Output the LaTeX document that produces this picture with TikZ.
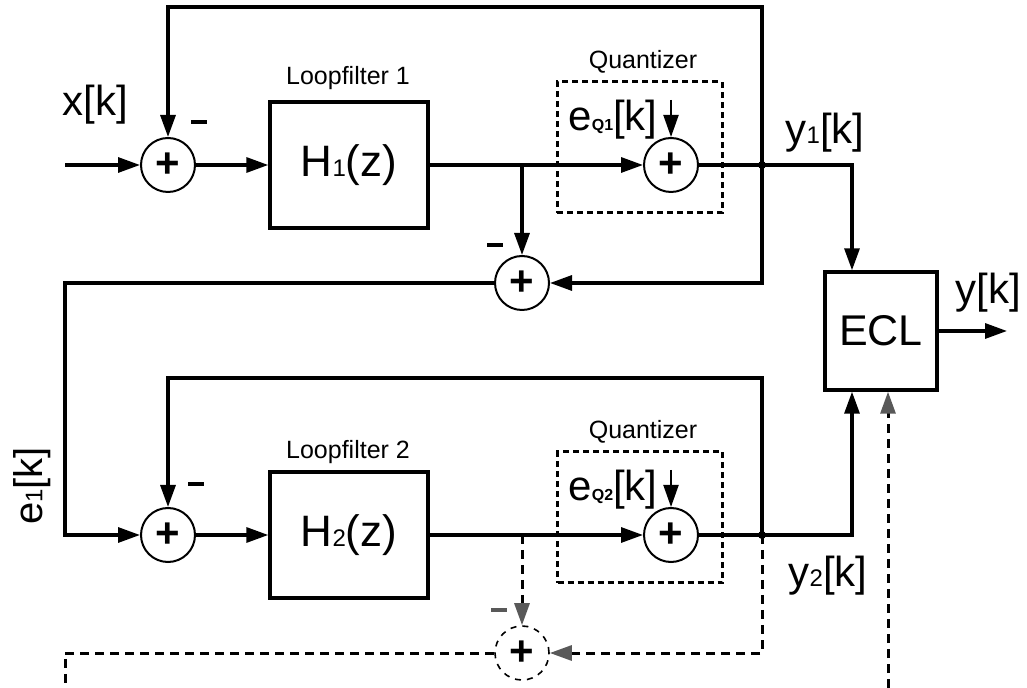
\documentclass[tikz,border=0pt]{standalone}
\usepackage{fontspec}
\setmainfont{Liberation Sans}
\usetikzlibrary{arrows.meta,positioning}

\newcommand{\lowidx}[1]{{\fontsize{12}{12}\selectfont #1}}
\newcommand{\qidx}[1]{{\fontsize{8}{8}\selectfont\bfseries #1}}

\begin{document}
\begin{tikzpicture}[x=0.5pt, y=-0.5pt,
        wire/.style ={line width=1.6pt},
        sig/.style  ={line width=1.6pt, -{Triangle[length=11pt, width=7.5pt]}},
        dwire/.style={line width=1.5pt, dash pattern=on 4.5pt off 3pt},
        dsig/.style ={line width=1.5pt, dash pattern=on 4.5pt off 3pt,
                      -{Triangle[length=11pt, width=7.5pt, color=black!65]}},
        summ/.style ={circle, draw, line width=1pt, minimum size=27pt, inner sep=0pt,
                      font=\fontsize{21}{21}\selectfont\bfseries},
        block/.style={draw, line width=1.7pt, minimum width=79pt, minimum height=63pt,
                      font=\fontsize{22}{26}\selectfont},
        qbox/.style ={draw, line width=1.5pt, dash pattern=on 3pt off 2pt,
                      minimum width=82.5pt, minimum height=65.5pt},
        lbl/.style  ={font=\fontsize{21}{25}\selectfont, inner sep=0pt},
        note/.style ={font=\fontsize{12.5}{15}\selectfont, inner sep=0pt},
        neg/.style  ={inner sep=0pt}]
    \useasboundingbox (0,0) rectangle (1027,688);

    %--- Stage 1 ---
    \node[summ]  (S1) at (168,165) {+};
    \node[block] (H1) at (349,165) {H\lowidx{1}(z)};
    \node[qbox]  (Q1) at (639.5,147.5) {};
    \node[summ]  (SQ1) at (671,165) {+};
    \node[summ]  (S3) at (522,283) {+};
    \node[note]  (LF1) at (348,78) {Loopfilter 1};
    \node[note]  (QL1) at (643,62) {Quantizer};
    \node[lbl]   (X) at (95,105) {x[k]};
    \node[lbl]   (EQ1) at (613,120) {e\qidx{Q1}[k]};
    \node[lbl]   (Y1) at (825,133) {y\lowidx{1}[k]};
    \node[neg]   (M1) at (199,122) {\rule{8pt}{2.2pt}};
    \node[neg]   (M3) at (495,245) {\rule{8pt}{2.2pt}};

    \coordinate (xin) at (65,165);
    \coordinate (eq1) at (671,100);
    \coordinate (J1) at (762,165);
    \coordinate (B1) at (522,165);
    \coordinate (top1) at (762,7);
    \coordinate (L1) at (65,283);
    \coordinate (E1) at (852,165);

    %--- Stage 2 ---
    \node[summ]  (S4) at (168,535) {+};
    \node[block] (H2) at (349,535) {H\lowidx{2}(z)};
    \node[qbox]  (Q2) at (640,517.5) {};
    \node[summ]  (SQ2) at (671,535) {+};
    \node[summ, dashed, line width=0.8pt] (S5) at (522,653) {+};
    \node[note]  (LF2) at (348,452) {Loopfilter 2};
    \node[note]  (QL2) at (643,432) {Quantizer};
    \node[lbl, rotate=90, font=\fontsize{20}{24}\selectfont] (E1L) at (32,486) {e\lowidx{1}[k]};
    \node[lbl]   (EQ2) at (613,490) {e\qidx{Q2}[k]};
    \node[lbl]   (Y2) at (828,576) {y\lowidx{2}[k]};
    \node[neg]   (M4) at (196,484) {\rule{8pt}{2.2pt}};
    \node[neg, text=black!65] (M5) at (499,610) {\rule{8pt}{2.2pt}};

    \coordinate (eq2) at (671,470);
    \coordinate (J2) at (762,535);
    \coordinate (B2) at (522,535);
    \coordinate (top2) at (762,378);
    \coordinate (L2) at (65,688);
    \coordinate (DB) at (888,688);

    %--- Combiner ---
    \node[draw, line width=1.7pt, minimum width=56pt, minimum height=59pt,
          font=\fontsize{21.5}{26}\selectfont] (ECL) at (881,331) {ECL};
    \node[lbl] (Y) at (988,293) {y[k]};
    \coordinate (yout) at (1007,331);

    %--- Stage 1 connections ---
    \draw[sig] (xin) -- (S1);
    \draw[sig] (S1) -- (H1);
    \draw[sig] (H1) -- (SQ1);
    \draw[sig, line width=1pt] (eq1) -- (SQ1);
    \draw[wire] (SQ1) -- (J1);
    \draw[sig] (J1) -- (top1) -| (S1);
    \draw[sig] (B1) -- (S3);
    \draw[sig] (J1) |- (S3);
    \draw[sig] (S3) -- (L1) |- (S4);
    \draw[sig] (J1) -| (ECL.north -| E1);
    \fill (J1) circle (2pt);

    %--- Stage 2 connections ---
    \draw[sig] (S4) -- (H2);
    \draw[sig] (H2) -- (SQ2);
    \draw[sig, line width=1pt] (eq2) -- (SQ2);
    \draw[wire] (SQ2) -- (J2);
    \draw[sig] (J2) -- (top2) -| (S4);
    \draw[sig] (J2) -| (ECL.south -| E1);
    \fill (J2) circle (2pt);

    %--- Next stage (dashed) ---
    \draw[dsig] (B2) -- (S5);
    \draw[dsig] (J2) |- (S5);
    \draw[dwire] (S5) -| (L2);
    \draw[dsig] (DB) -- (ECL.south -| DB);

    %--- Output ---
    \draw[sig] (ECL) -- (yout);

\end{tikzpicture}
\end{document}
